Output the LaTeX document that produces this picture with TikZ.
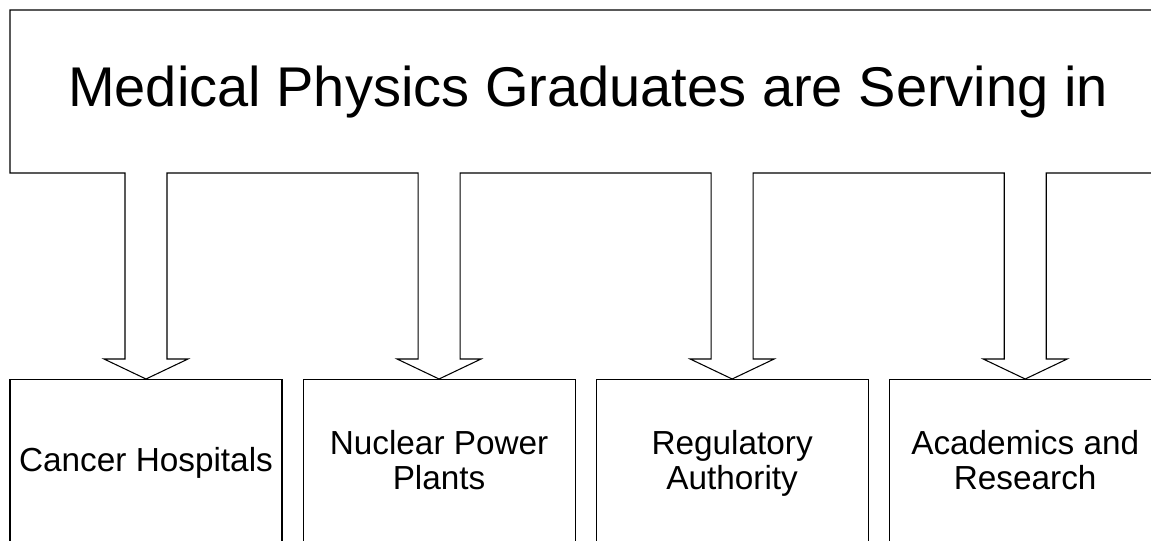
\documentclass[tikz,border=0pt]{standalone}
\usepackage{fontspec}
\setmainfont{Liberation Sans}
\usetikzlibrary{calc, positioning}

\begin{document}
\begin{tikzpicture}[
    x=0.75pt, y=-0.75pt,
    every node/.style={font=\fontsize{25}{26.5}\selectfont},
    outline/.style={draw=black, line width=0.8pt, line join=miter},
    place/.style={draw, line width=0.8pt, minimum width=204pt,
      minimum height=126pt, inner sep=0pt, text depth=5.5pt,
      align=center, anchor=north}
  ]
  \useasboundingbox (0,0) rectangle (1151,541);
  \clip (0,0) rectangle (1151,541);
  % Title
  \node[font=\fontsize{42}{42}\selectfont, anchor=base] (title) at (588,107)
    {Medical Physics Graduates are Serving in};
  \coordinate (topline) at (0,173);
  % Places
  \node[place] (hosp) at (146,379) {Cancer Hospitals};
  \node[place, right=15pt of hosp] (nuclear) {Nuclear Power\\Plants};
  \node[place, right=15pt of nuclear] (regulatory) {Regulatory\\Authority};
  \node[place, right=15pt of regulatory] (academic) {Academics and\\Research};
  % Frame with block arrows
  \draw[outline] (1160,10) -- (10,10) -- (topline -| 10,0)
    foreach \b in {hosp, nuclear, regulatory, academic} {
      -- ($(\b.north |- topline)+(-21,0)$)
      -- ($(\b.north)+(-21,-20)$)
      -- ($(\b.north)+(-42,-20)$)
      -- (\b.north)
      -- ($(\b.north)+(42,-20)$)
      -- ($(\b.north)+(21,-20)$)
      -- ($(\b.north |- topline)+(21,0)$)
    } -- (1160,173);
\end{tikzpicture}
\end{document}
